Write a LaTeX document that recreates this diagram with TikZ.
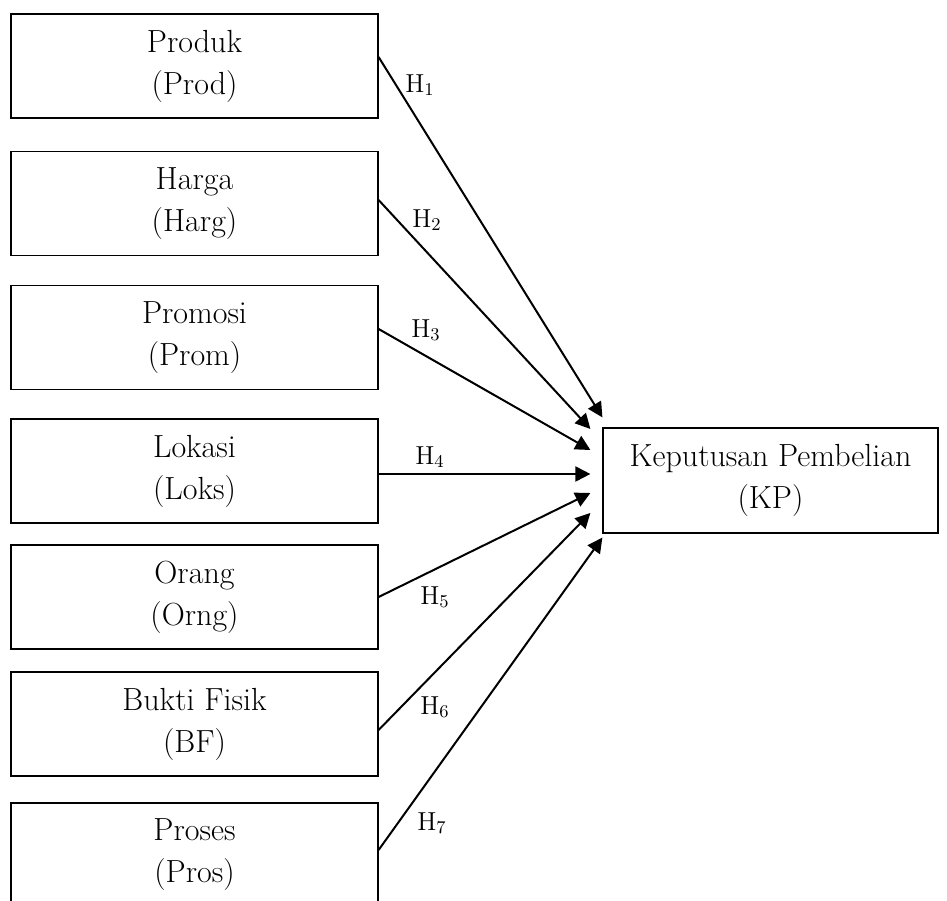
\documentclass[tikz,border=0pt]{standalone}
\usetikzlibrary{arrows.meta, positioning, calc}
\tikzset{
  varbox/.style={rectangle, minimum width=183.5pt, minimum height=52pt, inner sep=0pt,
    text centered, align=center, draw=black, line width=0.6pt, font=\fontsize{16}{21}\selectfont},
  kpbox/.style={varbox, minimum width=167.5pt, minimum height=52.5pt},
  arr/.style={-{Triangle[length=7.5pt, width=7.5pt]}, line width=1pt, draw=black},
  hlab/.style={font=\fontsize{13}{15}\selectfont, inner sep=0pt},
}

\begin{document}
\begin{tikzpicture}[x=0.5pt, y=0.5pt]
  \useasboundingbox (0,0) rectangle (947,900);

  % Independent variables
  \node[varbox] (prod) at (194.5,834) {Produk\\(Prod)};
  \node[varbox] (harg) at (194.5,696.5) {Harga\\(Harg)};
  \node[varbox] (prom) at (194.5,562.5) {Promosi\\(Prom)};
  \node[varbox] (loks) at (194.5,429) {Lokasi\\(Loks)};
  \node[varbox] (orng) at (194.5,303) {Orang\\(Orng)};
  \node[varbox] (bf) at (194.5,176) {Bukti Fisik\\(BF)};
  \node[varbox] (pros) at (194.5,45) {Proses\\(Pros)};

  % Dependent variable
  \node[kpbox] (kp) at (770.5,419.5) {Keputusan Pembelian\\(KP)};

  % Arrow ends
  \coordinate (t1) at ($(kp.north west)+(0,10)$);
  \coordinate (t2) at ($(kp.west)+(-12,51.5)$);
  \coordinate (t3) at ($(kp.west)+(-12,30.5)$);
  \coordinate (t4) at ($(kp.west)+(-12,6.5)$);
  \coordinate (t5) at ($(kp.west)+(-12,-12.5)$);
  \coordinate (t6) at ($(kp.west)+(-12,-32.5)$);
  \coordinate (t7) at ($(kp.south west)+(0,-4)$);

  % Hypotheses
  \node[hlab] (h1) at (420,815) {H$_1$};
  \node[hlab] (h2) at (427,680) {H$_2$};
  \node[hlab] (h3) at (426,570) {H$_3$};
  \node[hlab] (h4) at (430,443) {H$_4$};
  \node[hlab] (h5) at (435,303) {H$_5$};
  \node[hlab] (h6) at (435,193) {H$_6$};
  \node[hlab] (h7) at (432,77) {H$_7$};

  \draw[arr] ($(prod.east)+(0,9)$) -- (t1);
  \draw[arr] ($(harg.east)+(0,3.5)$) -- (t2);
  \draw[arr] ($(prom.east)+(0,8.5)$) -- (t3);
  \draw[arr] ($(loks.east)+(0,-3)$) -- (t4);
  \draw[arr] (orng.east) -- (t5);
  \draw[arr] ($(bf.east)+(0,-6)$) -- (t6);
  \draw[arr] ($(pros.east)+(0,5)$) -- (t7);
\end{tikzpicture}
\end{document}
